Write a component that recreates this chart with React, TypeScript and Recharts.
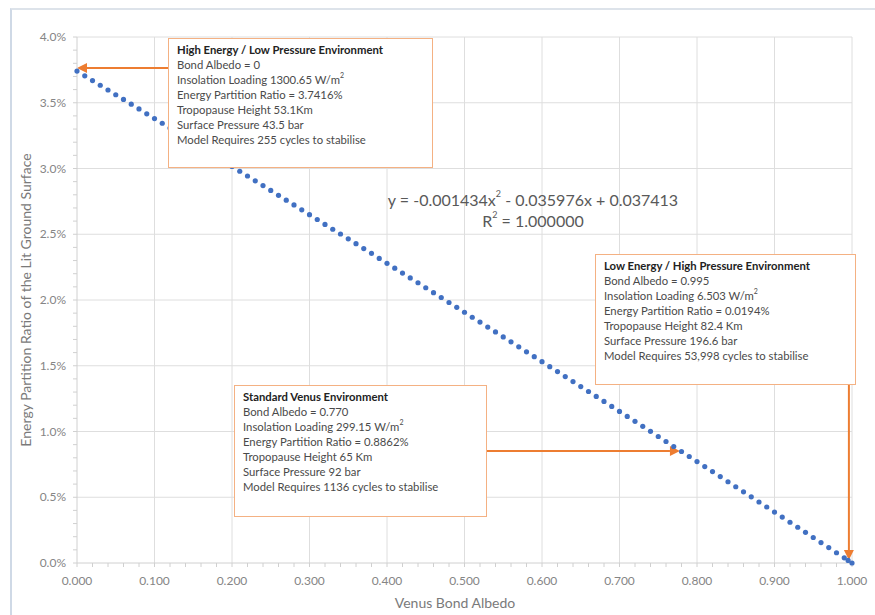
import React from 'react';
import { ScatterChart, Scatter, XAxis, YAxis, ReferenceLine } from 'recharts';

// Venus bond albedo (x) vs energy partition ratio of the lit ground surface (%, y)
const albedo = [
  0, 0.01, 0.02, 0.03, 0.04, 0.05, 0.06, 0.07, 0.08, 0.09,
  0.1, 0.11, 0.12, 0.13, 0.14, 0.15, 0.16, 0.17, 0.18, 0.19,
  0.2, 0.21, 0.22, 0.23, 0.24, 0.25, 0.26, 0.27, 0.28, 0.29,
  0.3, 0.31, 0.32, 0.33, 0.34, 0.35, 0.36, 0.37, 0.38, 0.39,
  0.4, 0.41, 0.42, 0.43, 0.44, 0.45, 0.46, 0.47, 0.48, 0.49,
  0.5, 0.51, 0.52, 0.53, 0.54, 0.55, 0.56, 0.57, 0.58, 0.59,
  0.6, 0.61, 0.62, 0.63, 0.64, 0.65, 0.66, 0.67, 0.68, 0.69,
  0.7, 0.71, 0.72, 0.73, 0.74, 0.75, 0.76, 0.77, 0.78, 0.79,
  0.8, 0.81, 0.82, 0.83, 0.84, 0.85, 0.86, 0.87, 0.88, 0.89,
  0.9, 0.91, 0.92, 0.93, 0.94, 0.95, 0.96, 0.97, 0.98, 0.99,
  0.995, 1.0,
];

const ratio = [
  3.741, 3.705, 3.669, 3.633, 3.597, 3.561, 3.525, 3.489, 3.453, 3.416,
  3.380, 3.344, 3.308, 3.271, 3.235, 3.198, 3.162, 3.126, 3.089, 3.053,
  3.016, 2.979, 2.943, 2.906, 2.870, 2.833, 2.796, 2.759, 2.723, 2.686,
  2.649, 2.612, 2.575, 2.538, 2.502, 2.465, 2.428, 2.391, 2.354, 2.316,
  2.279, 2.242, 2.205, 2.168, 2.131, 2.093, 2.056, 2.019, 1.981, 1.944,
  1.907, 1.869, 1.832, 1.794, 1.757, 1.719, 1.682, 1.644, 1.606, 1.569,
  1.531, 1.493, 1.456, 1.418, 1.380, 1.342, 1.304, 1.267, 1.229, 1.191,
  1.153, 1.115, 1.077, 1.039, 1.001, 0.962, 0.924, 0.886, 0.848, 0.810,
  0.771, 0.733, 0.695, 0.657, 0.618, 0.580, 0.541, 0.503, 0.464, 0.426,
  0.387, 0.349, 0.310, 0.272, 0.233, 0.194, 0.155, 0.117, 0.078, 0.039,
  0.0194, 0.000,
];

const xTicks = [0, 0.1, 0.2, 0.3, 0.4, 0.5, 0.6, 0.7, 0.8, 0.9, 1.0];
const xTickLabels = ['0.000', '0.100', '0.200', '0.300', '0.400', '0.500', '0.600', '0.700', '0.800', '0.900', '1.000'];
const yTicks = [0, 0.5, 1, 1.5, 2, 2.5, 3, 3.5, 4];
const yTickLabels = ['0.0%', '0.5%', '1.0%', '1.5%', '2.0%', '2.5%', '3.0%', '3.5%', '4.0%'];

// minor tick marks (Excel style)
const xMinor = Array.from({ length: 51 }, (_, i) => i * 0.02);
const yMinor = Array.from({ length: 41 }, (_, i) => i * 0.1);

// annotation arrows in data units: [x1, y1, x2, y2] (arrow head at x2,y2)
const arrows = [
  [0.118, 3.765, 0.0, 3.765],
  [0.529, 0.852, 0.778, 0.852],
  [0.996, 1.354, 0.996, 0.023],
];

const data = albedo.map((x, i) => ({ x, y: ratio[i] }));

const FONT = 'Lato, "Open Sans", sans-serif';
const GRID = '#dedede';
const ORANGE = '#ed7d31';
const BOX_BORDER = '#f4b183';

const isMajor = (v: number, step: number) => Math.abs(v / step - Math.round(v / step)) < 1e-6;

const XTick = (props: any) => {
  const { x, y, payload } = props;
  if (!isMajor(payload.value, 0.1)) return <g />;
  const i = Math.round(payload.value * 10);
  return (
    <text x={x} y={y + 12} textAnchor="middle" fontSize={12} fill="#858585" fontFamily={FONT}>
      {xTickLabels[i]}
    </text>
  );
};

const YTick = (props: any) => {
  const { x, y, payload } = props;
  if (!isMajor(payload.value, 0.5)) return <g />;
  const i = Math.round(payload.value * 2);
  return (
    <text x={x} y={y + 4} textAnchor="end" fontSize={12} fill="#858585" fontFamily={FONT}>
      {yTickLabels[i]}
    </text>
  );
};

const Arrow = (props: any) => {
  const { x1, y1, x2, y2 } = props;
  const a = Math.atan2(y2 - y1, x2 - x1);
  const len = 10;
  const hw = 5;
  const bx = x2 - len * Math.cos(a);
  const by = y2 - len * Math.sin(a);
  const px = -Math.sin(a) * hw;
  const py = Math.cos(a) * hw;
  return (
    <g>
      <line x1={x1} y1={y1} x2={bx} y2={by} stroke={ORANGE} strokeWidth={2} />
      <polygon points={`${x2},${y2} ${bx + px},${by + py} ${bx - px},${by - py}`} fill={ORANGE} />
    </g>
  );
};

const Dot = (props: any) => <circle cx={props.cx} cy={props.cy} r={2.6} fill="#4170c2" />;

const boxStyle: React.CSSProperties = {
  position: 'absolute',
  background: '#fff',
  border: `1.5px solid ${BOX_BORDER}`,
  boxSizing: 'border-box',
  padding: '3px 8px',
  fontFamily: FONT,
  fontSize: 11.3,
  lineHeight: '15px',
  color: '#4a4a4a',
  whiteSpace: 'nowrap',
};

const Sup = ({ children, size = 7 }: { children: React.ReactNode; size?: number }) => (
  <span style={{ fontSize: size, verticalAlign: 'top', lineHeight: 1, position: 'relative', top: 0 }}>{children}</span>
);

function InfoBox({ left, top, width, height, lines }: any) {
  return (
    <div style={{ ...boxStyle, left, top, width, height }}>
      <div style={{ fontWeight: 700, color: '#222' }}>{lines[0]}</div>
      {lines.slice(1).map((l: React.ReactNode, i: number) => (
        <div key={i}>{l}</div>
      ))}
    </div>
  );
}

export default function App() {
  return (
    <div style={{ position: 'absolute', left: 0, top: 0, width: 875, height: 615, background: '#fff', overflow: 'hidden' }}>
      <div style={{ position: 'absolute', left: 10, top: 8, right: 0, bottom: 0, borderLeft: '2px solid #cfd9e6', borderTop: '2px solid #dde3ea' }} />
      <div style={{ position: 'absolute', left: 0, top: 0 }}>
        <ScatterChart width={875} height={615} margin={{ top: 37, right: 23, bottom: 0, left: 0 }}>
          <XAxis
            type="number"
            dataKey="x"
            domain={[0, 1]}
            ticks={xMinor}
            interval={0}
            height={52}
            tick={<XTick />}
            tickSize={4}
            tickMargin={6}
            tickLine={{ stroke: '#d0d0d0' }}
            axisLine={{ stroke: '#d0d0d0' }}
          />
          <YAxis
            type="number"
            dataKey="y"
            domain={[0, 4]}
            ticks={yMinor}
            interval={0}
            width={77}
            tick={<YTick />}
            tickSize={4}
            tickMargin={7}
            tickLine={{ stroke: '#d0d0d0' }}
            axisLine={{ stroke: '#d0d0d0' }}
          />
          {xTicks.slice(1).map((t) => (
            <ReferenceLine key={'gx' + t} x={t} stroke={GRID} strokeWidth={1} />
          ))}
          {yTicks.slice(1).map((t) => (
            <ReferenceLine key={'gy' + t} y={t} stroke={GRID} strokeWidth={1} />
          ))}
          <Scatter data={data} shape={<Dot />} isAnimationActive={false} />
          {arrows.map((a, i) => (
            <ReferenceLine
              key={'ar' + i}
              segment={[{ x: a[0], y: a[1] }, { x: a[2], y: a[3] }]}
              ifOverflow="visible"
              shape={<Arrow />}
            />
          ))}
        </ScatterChart>
      </div>

      <InfoBox
        left={168}
        top={38}
        width={265}
        height={130}
        lines={[
          'High Energy / Low Pressure Environment',
          'Bond Albedo = 0',
          <>Insolation Loading 1300.65 W/m<Sup>2</Sup></>,
          'Energy Partition Ratio = 3.7416%',
          'Tropopause Height  53.1Km',
          'Surface Pressure 43.5 bar',
          'Model Requires  255 cycles to stabilise',
        ]}
      />
      <InfoBox
        left={595}
        top={254}
        width={261}
        height={131}
        lines={[
          'Low Energy / High Pressure  Environment',
          'Bond Albedo = 0.995',
          <>Insolation Loading 6.503 W/m<Sup>2</Sup></>,
          'Energy Partition  Ratio = 0.0194%',
          'Tropopause Height  82.4 Km',
          'Surface Pressure  196.6 bar',
          'Model Requires  53,998 cycles to stabilise',
        ]}
      />
      <InfoBox
        left={234}
        top={385}
        width={253}
        height={132}
        lines={[
          'Standard Venus Environment',
          'Bond Albedo = 0.770',
          <>Insolation Loading 299.15 W/m<Sup>2</Sup></>,
          'Energy Partition Ratio = 0.8862%',
          'Tropopause Height  65 Km',
          'Surface Pressure 92 bar',
          'Model Requires  1136 cycles to stabilise',
        ]}
      />

      <div
        style={{
          position: 'absolute',
          left: 363,
          top: 189,
          width: 340,
          textAlign: 'center',
          fontFamily: FONT,
          fontSize: 16,
          lineHeight: '21px',
          color: '#595959',
          whiteSpace: 'nowrap',
        }}
      >
        <div>
          y = -0.001434x<Sup size={9}>2</Sup> - 0.035976x + 0.037413
        </div>
        <div>
          R<Sup size={9}>2</Sup> = 1.000000
        </div>
      </div>

      <div
        style={{
          position: 'absolute',
          left: 355,
          top: 594,
          width: 200,
          textAlign: 'center',
          fontFamily: FONT,
          fontSize: 14,
          color: '#7a7a7a',
        }}
      >
        Venus Bond Albedo
      </div>
      <div
        style={{
          position: 'absolute',
          left: 25,
          top: 300,
          width: 0,
          height: 0,
        }}
      >
        <div
          style={{
            position: 'absolute',
            left: 0,
            top: 0,
            transform: 'translate(-50%, -50%) rotate(-90deg)',
            fontFamily: FONT,
            fontSize: 14,
            color: '#7a7a7a',
            whiteSpace: 'nowrap',
          }}
        >
          Energy Partition Ratio of the Lit Ground Surface
        </div>
      </div>
    </div>
  );
}
